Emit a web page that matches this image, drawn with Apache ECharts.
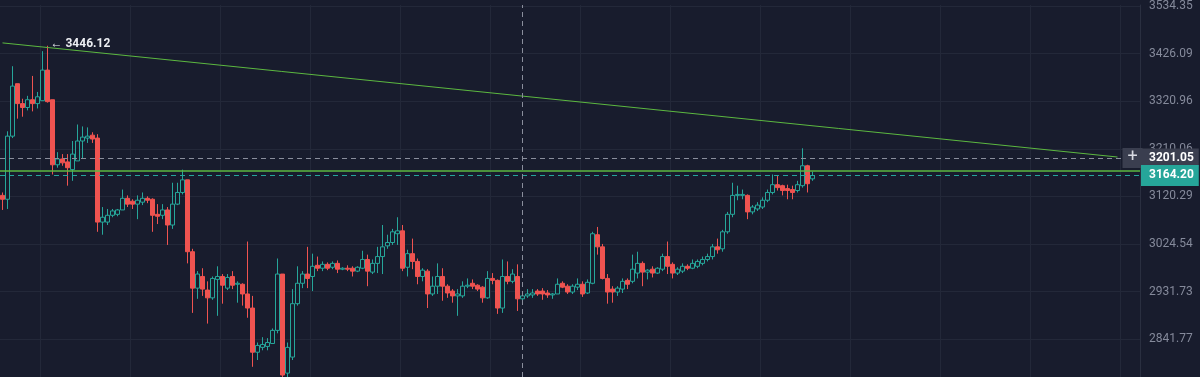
<!DOCTYPE html>
<html>
<head>
    <meta charset="utf-8">
    <title>candles</title>
    <script src="https://cdn.jsdelivr.net/npm/echarts@6/dist/echarts.min.js"></script>
    <style>
        html, body { margin: 0; padding: 0; background: #181c2d; }
    </style>
</head>
<body>
<div id="main" style="width: 1200px;height:377px;"></div>
<script type="text/javascript">
    // [open, close, low, high]
    var candles = [
        [3138, 3130, 3108, 3144], [3130, 3260, 3110, 3270], [3260, 3363, 3256, 3404], [3368, 3327, 3296, 3368],
        [3327, 3319, 3300, 3337], [3319, 3335, 3313, 3343], [3335, 3327, 3311, 3384], [3327, 3341, 3317, 3351],
        [3333, 3396, 3333, 3435], [3396, 3331, 3329, 3446.12], [3335, 3201, 3181, 3335], [3201, 3213, 3195, 3227],
        [3213, 3205, 3199, 3223], [3207, 3195, 3158, 3223], [3191, 3223, 3168, 3250], [3209, 3250, 3209, 3284],
        [3250, 3258, 3215, 3280], [3256, 3260, 3246, 3278], [3262, 3254, 3246, 3268], [3256, 3083, 3063, 3264],
        [3083, 3093, 3057, 3114], [3083, 3097, 3077, 3110], [3097, 3106, 3093, 3110], [3099, 3108, 3095, 3110],
        [3108, 3132, 3108, 3150], [3132, 3120, 3114, 3138], [3126, 3120, 3110, 3130], [3120, 3128, 3089, 3138],
        [3124, 3132, 3118, 3144], [3132, 3128, 3122, 3136], [3130, 3097, 3063, 3132], [3099, 3095, 3079, 3120],
        [3097, 3108, 3089, 3120], [3108, 3077, 3036, 3114], [3077, 3120, 3069, 3164], [3120, 3144, 3118, 3164],
        [3144, 3170, 3140, 3191], [3170, 3022, 2998, 3170], [3022, 2947, 2896, 3028], [2947, 2976, 2925, 2982],
        [2971, 2945, 2931, 2988], [2943, 2927, 2874, 2961], [2927, 2967, 2923, 2971], [2965, 2971, 2890, 2992],
        [2971, 2953, 2915, 2976], [2947, 2969, 2943, 2976], [2971, 2953, 2945, 2982], [2955, 2957, 2917, 2961],
        [2955, 2935, 2911, 2957], [2935, 2906, 2886, 3043], [2906, 2815, 2785, 2931], [2815, 2829, 2799, 2835],
        [2825, 2831, 2819, 2846], [2827, 2835, 2819, 2844], [2833, 2860, 2833, 2864], [2860, 2976, 2854, 3008],
        [2976, 2768, 2758, 2976], [2772, 2825, 2758, 2835], [2805, 2915, 2799, 2945], [2915, 2957, 2911, 2992],
        [2957, 2976, 2947, 2982], [2976, 2967, 2947, 3032], [2971, 2992, 2941, 3018], [2994, 2988, 2982, 3012],
        [2988, 2996, 2982, 3002], [2996, 2988, 2984, 3000], [2990, 2998, 2986, 3002], [2998, 2986, 2978, 3004],
        [2986, 2988, 2984, 2990], [2988, 2986, 2982, 2994], [2988, 2982, 2971, 2992], [2982, 2990, 2980, 2992],
        [2988, 3006, 2986, 3024], [3006, 2982, 2951, 3016], [2980, 2998, 2976, 3006], [2998, 3012, 2978, 3032],
        [3012, 3032, 2976, 3077], [3034, 3041, 3028, 3057], [3041, 3063, 3036, 3069], [3059, 3065, 3036, 3093],
        [3065, 2988, 2982, 3077], [2990, 3018, 2971, 3026], [3018, 3002, 2986, 3049], [3002, 2971, 2955, 3008],
        [2971, 2984, 2961, 2988], [2982, 2935, 2906, 2986], [2935, 2951, 2931, 2971], [2951, 2971, 2935, 2998],
        [2971, 2951, 2921, 2988], [2951, 2937, 2927, 2955], [2941, 2931, 2917, 2945], [2931, 2935, 2890, 2945],
        [2931, 2951, 2927, 2961], [2951, 2953, 2947, 2967], [2957, 2951, 2945, 2965], [2953, 2945, 2941, 2955],
        [2949, 2927, 2917, 2951], [2927, 2967, 2925, 2982], [2967, 2963, 2955, 2978], [2963, 2906, 2894, 2965],
        [2906, 2971, 2896, 3006], [2971, 2961, 2955, 3002], [2961, 2976, 2957, 2986], [2971, 2925, 2900, 2996],
        [2925, 2931, 2915, 2941], [2931, 2935, 2927, 2945], [2933, 2937, 2927, 2945], [2941, 2935, 2931, 2945],
        [2941, 2935, 2923, 2947], [2937, 2933, 2927, 2943], [2933, 2935, 2925, 2937], [2935, 2955, 2935, 2967],
        [2957, 2949, 2947, 2961], [2951, 2939, 2935, 2955], [2939, 2951, 2935, 2955], [2949, 2955, 2943, 2967],
        [2955, 2935, 2929, 2961], [2937, 2959, 2935, 2965], [2957, 3059, 2955, 3063], [3057, 3032, 3016, 3073],
        [3032, 2967, 2965, 3038], [2967, 2939, 2915, 2976], [2945, 2939, 2917, 2951], [2939, 2947, 2931, 2951],
        [2945, 2961, 2937, 2967], [2963, 2955, 2945, 2967], [2961, 2986, 2957, 3016], [2978, 2998, 2967, 3022],
        [2998, 2980, 2951, 3002], [2980, 2984, 2965, 2986], [2986, 2978, 2969, 2992], [2978, 2988, 2976, 2990],
        [2986, 3012, 2982, 3018], [3012, 2992, 2976, 3043], [2996, 2978, 2967, 3000], [2978, 2986, 2974, 2990],
        [2982, 2992, 2978, 2998], [2992, 2988, 2984, 2996], [2988, 2998, 2986, 3006], [2992, 3002, 2988, 3006],
        [2998, 3006, 2994, 3012], [3006, 3012, 3002, 3018], [3012, 3032, 3006, 3038], [3032, 3026, 3018, 3049],
        [3028, 3063, 3022, 3067], [3063, 3099, 3059, 3104], [3099, 3138, 3093, 3164], [3138, 3140, 3128, 3158],
        [3138, 3140, 3130, 3150], [3138, 3104, 3089, 3140], [3104, 3114, 3099, 3118], [3110, 3118, 3106, 3124],
        [3114, 3128, 3110, 3134], [3128, 3144, 3124, 3150], [3144, 3160, 3140, 3181], [3160, 3154, 3148, 3179],
        [3158, 3148, 3138, 3160], [3152, 3148, 3130, 3160], [3150, 3144, 3130, 3158], [3148, 3160, 3144, 3168],
        [3158, 3199, 3154, 3235], [3199, 3162, 3144, 3201], [3172, 3179, 3168, 3187]
    ];

    // the x axis keeps going past the last candle (empty space on the right)
    var slotCount = 228;
    var categories = [];
    for (var i = 0; i < slotCount; i++) {
        categories.push(String(i));
    }

    // price scale shown on the right; the printed labels sit on evenly spaced ticks
    var yMin = 2764, yMax = 3530;
    var yTickValues = [2842, 2940, 3038, 3136, 3234, 3332, 3430, 3528];
    var yTickLabels = ['2841.77', '2931.73', '3024.54', '3120.29', '3210.06', '3320.96', '3426.09', '3534.35'];

    var trendStart = [0, 3452];
    var trendEnd = [223, 3217];
    var levelPrice = 3189;          // horizontal drawn line
    var crossPrice = 3215;          // crosshair
    var crossText = '3201.05';
    var crossIndex = 104;
    var lastText = '3164.20';
    var lastClose = candles[candles.length - 1][1];

    var up = '#26a69a', down = '#ef5350', bg = '#181c2d', lineGreen = '#5cb840';

    var myChart = echarts.init(document.getElementById('main'));

    var option = {
        backgroundColor: bg,
        animation: false,
        textStyle: { fontFamily: 'Roboto' },
        grid: { left: 0, right: 60, top: 0, bottom: 0 },
        xAxis: {
            type: 'category',
            data: categories,
            boundaryGap: true,
            axisLine: { show: false },
            axisTick: { show: false },
            axisLabel: { show: false },
            splitLine: {
                show: true,
                interval: function (idx) { return (idx - 8) % 18 === 0; },
                lineStyle: { color: '#232839', width: 1 }
            }
        },
        yAxis: {
            type: 'value',
            position: 'right',
            min: yMin,
            max: yMax,
            axisLine: { show: true, lineStyle: { color: '#2a2f40' } },
            axisTick: { show: false, customValues: yTickValues },
            axisLabel: {
                color: '#858a9b',
                fontSize: 12,
                margin: 9,
                customValues: yTickValues,
                formatter: function (v) {
                    var k = yTickValues.indexOf(v);
                    return k >= 0 ? yTickLabels[k] : '';
                }
            },
            splitLine: { lineStyle: { color: '#232839' } }
        },
        series: [{
            type: 'candlestick',
            data: candles,
            barWidth: 4,
            itemStyle: {
                color: bg,
                color0: down,
                borderColor: up,
                borderColor0: down,
                borderWidth: 1
            },
            markPoint: {
                symbol: 'circle',
                symbolSize: 0,
                silent: true,
                data: [{
                    type: 'max',
                    valueDim: 'highest',
                    label: {
                        show: true,
                        position: 'right',
                        distance: 3,
                        offset: [0, -2],
                        color: '#eceef3',
                        fontSize: 12,
                        fontWeight: 'bold',
                        formatter: function (p) { return '\u2190 ' + p.value.toFixed(2); }
                    }
                }, {
                    coord: [226, crossPrice],
                    symbol: 'rect',
                    symbolSize: [20, 20],
                    itemStyle: { color: '#3a3e4f' },
                    label: {
                        show: true,
                        position: 'inside',
                        color: '#d8dae2',
                        fontSize: 18,
                        formatter: '+'
                    }
                }]
            },
            markLine: {
                silent: true,
                symbol: ['none', 'none'],
                animation: false,
                data: [
                    [{
                        coord: trendStart,
                        lineStyle: { color: lineGreen, width: 1, type: 'solid' },
                        label: { show: false }
                    }, { coord: trendEnd }],
                    {
                        yAxis: levelPrice,
                        lineStyle: { color: lineGreen, width: 1.5, type: 'solid' },
                        label: { show: false }
                    },
                    {
                        yAxis: crossPrice,
                        lineStyle: { color: '#8a8e9c', width: 1, type: [5, 4] },
                        label: {
                            show: true,
                            position: 'end',
                            distance: 1,
                            formatter: crossText,
                            color: '#ffffff',
                            fontSize: 12,
                            fontWeight: 'bold',
                            backgroundColor: '#3a3e4f',
                            padding: [4, 5, 3, 8]
                        }
                    },
                    {
                        yAxis: lastClose,
                        lineStyle: { color: up, width: 1, type: [5, 4] },
                        label: {
                            show: true,
                            position: 'end',
                            distance: 1,
                            formatter: lastText,
                            color: '#ffffff',
                            fontSize: 12,
                            fontWeight: 'bold',
                            backgroundColor: up,
                            padding: [5, 5, 4, 8]
                        }
                    },
                    {
                        xAxis: crossIndex,
                        lineStyle: { color: '#8a8e9c', width: 1, type: [5, 4] },
                        label: { show: false }
                    }
                ]
            }
        }]
    };

    myChart.setOption(option);
</script>
</body>
</html>
